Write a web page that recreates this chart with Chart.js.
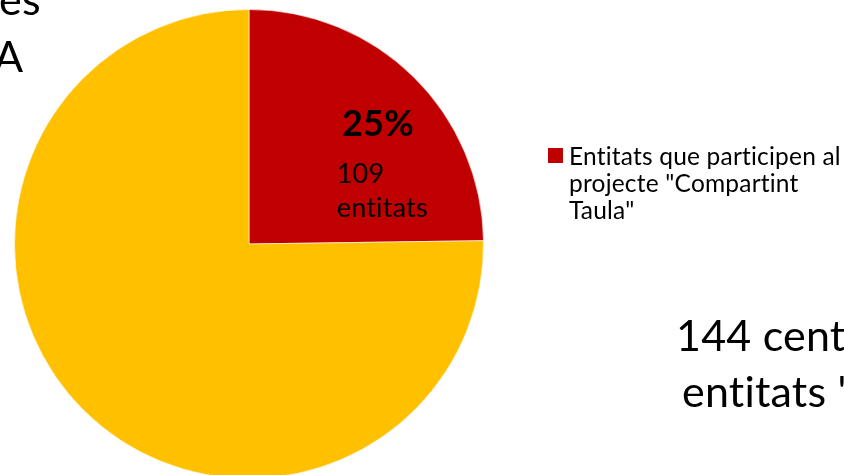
<!DOCTYPE html>
<html>
<head>
<meta charset="utf-8">
<script src="https://cdn.jsdelivr.net/npm/chart.js@4.4.0/dist/chart.umd.min.js"></script>
<style>
  html, body { margin: 0; padding: 0; background: #fff; overflow: hidden; }
  #wrap { width: 844px; height: 475px; overflow: hidden; }
</style>
</head>
<body>
<div id="wrap"><canvas id="grafic" width="844" height="490"></canvas></div>
<script>
// dades llegides del gràfic
const categories = ['Entitats que participen al projecte "Compartint Taula"', 'Resta d\'entitats'];
const valors = [109, 331];
const colors = ['#C00000', '#FFC000'];
const legendLines = ['Entitats que participen al', 'projecte "Compartint', 'Taula"'];
const unitat = 'entitats';
const textTitol = ['es', 'A'];
const textPeu = ['144 cent', 'entitats "'];

const FONT = 'Lato, "Open Sans", sans-serif';

const etiquetes = {
  id: 'etiquetes',
  afterDraw(chart) {
    const ctx = chart.ctx;
    const arc = chart.getDatasetMeta(0).data[0];
    const r = arc.outerRadius;
    const total = valors.reduce((a, b) => a + b, 0);
    const pct = Math.round(valors[0] / total * 100) + '%';

    ctx.save();
    ctx.fillStyle = '#000';
    ctx.textBaseline = 'alphabetic';
    ctx.letterSpacing = '0.2px'; // evita la lligadura "ti" de Lato

    // etiqueta de la porció vermella
    ctx.font = 'bold 36px ' + FONT;
    ctx.textAlign = 'center';
    ctx.fillText(pct, arc.x + r * 0.55, arc.y - r * 0.46);
    ctx.font = '27px ' + FONT;
    ctx.textAlign = 'left';
    ctx.fillText(String(valors[0]), arc.x + r * 0.374, arc.y - r * 0.26);
    ctx.fillText(unitat, arc.x + r * 0.374, arc.y - r * 0.115);

    // llegenda (només la primera entrada és visible)
    ctx.fillStyle = colors[0];
    ctx.fillRect(548, 148, 15, 15);
    ctx.fillStyle = '#000';
    ctx.font = '24.5px ' + FONT;
    const baseLleg = [165, 192, 219];
    legendLines.forEach((l, i) => ctx.fillText(l, 569, baseLleg[i]));

    // textos de la diapositiva, tallats per la vora
    ctx.font = '43px ' + FONT;
    ctx.fillText(textTitol[0], -1, 15);
    ctx.fillText(textTitol[1], -6, 72);
    ctx.fillText(textPeu[0], 676, 351);
    ctx.fillText(textPeu[1], 682, 407);
    ctx.restore();
  }
};

new Chart(document.getElementById('grafic'), {
  type: 'pie',
  data: {
    labels: categories,
    datasets: [{
      data: valors,
      backgroundColor: colors,
      borderColor: 'rgba(255,255,255,0.6)',
      borderWidth: 1
    }]
  },
  options: {
    responsive: false,
    animation: false,
    devicePixelRatio: 1,
    layout: { padding: { left: 14, right: 360, top: 9, bottom: 11 } },
    plugins: {
      legend: { display: false },
      tooltip: { enabled: false }
    }
  },
  plugins: [etiquetes]
});
</script>
</body>
</html>
